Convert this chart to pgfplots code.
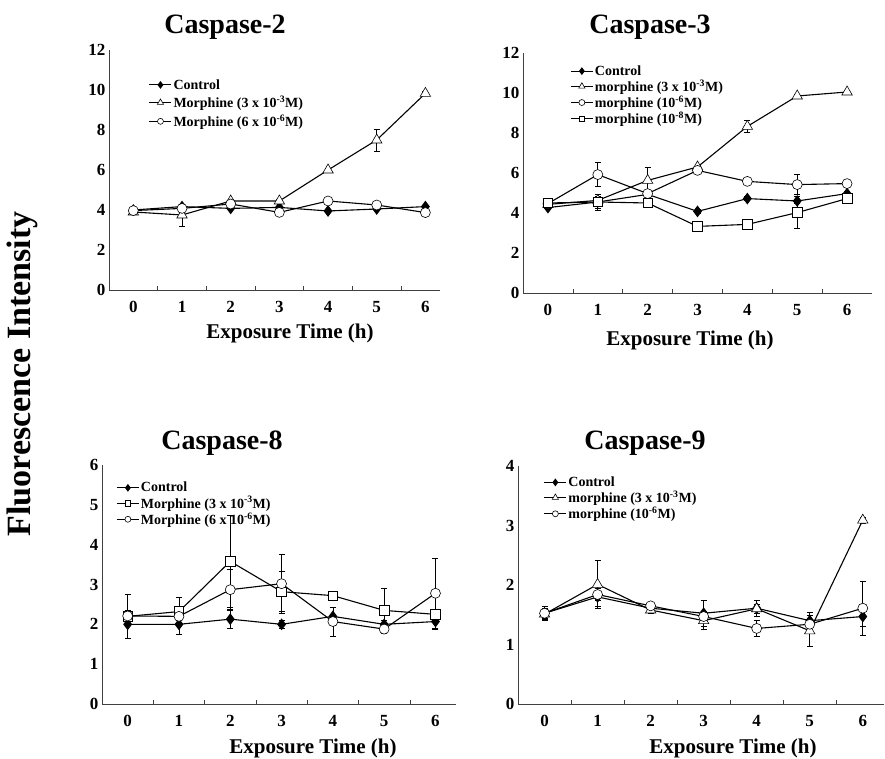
\documentclass[border=0pt]{standalone}
\usepackage{fontspec}
\setmainfont{Liberation Serif}
\usepackage{pgfplots}
\pgfplotsset{compat=1.18}

\pgfplotsset{
  caspase/.style={
    scale only axis,
    anchor=south west,
    axis lines*=left,
    axis line style={line width=0.7pt, black!75},
    xmin=-0.5, ymin=0,
    xtick={0,...,6},
    major tick length=0pt,
    extra x ticks={0.5,1.5,...,5.5},
    extra x tick labels={},
    extra x tick style={major tick length=4pt, tick align=inside, tick style={line width=0.6pt, black!75}},
    /pgf/number format/assume math mode=true,
    ticklabel style={font=\bfseries\fontsize{17}{17}\selectfont},
    xticklabel style={yshift=-8pt},
    clip=false,
    legend cell align=left,
    legend style={draw=none, fill=none, anchor=north west, inner sep=0pt,
      row sep=0pt, nodes={inner sep=1.5pt},
      font=\bfseries\fontsize{14}{14}\selectfont},
    legend image code/.code={
      \draw[mark repeat=2, mark phase=2, #1, every mark/.append style={scale=0.6}]
        plot coordinates {(0pt,0pt) (11pt,0pt) (22pt,0pt)};},
    error bars/y dir=both, error bars/y explicit,
    error bars/error bar style={line width=0.6pt, black},
    error bars/error mark options={rotate=90, mark size=3pt, line width=0.6pt, black},
  },
  ctrl/.style={black, line width=1.1pt, mark=diamond*, mark size=5pt,
    mark options={fill=black, solid}},
  tri/.style={black, line width=1.1pt, mark=triangle*, mark size=6pt,
    mark options={fill=white, solid, line width=0.6pt}},
  circ/.style={black, line width=1.1pt, mark=*, mark size=5pt,
    mark options={fill=white, solid, line width=0.6pt}},
  sq/.style={black, line width=1.1pt, mark=square*, mark size=4.8pt,
    mark options={fill=white, solid, line width=0.6pt}},
}

\begin{document}
\begin{tikzpicture}
\useasboundingbox (0pt,0pt) rectangle (885pt,759pt);

\node[rotate=90, font=\bfseries\fontsize{34}{34}\selectfont] at (22pt,385pt) {Fluorescence Intensity};

% titles and x labels
\begin{scope}[every node/.style={font=\bfseries\fontsize{28}{28}\selectfont}]
  \node at (225pt,732pt) {Caspase-2};
  \node at (650pt,732pt) {Caspase-3};
  \node at (222pt,316pt) {Caspase-8};
  \node at (645pt,316pt) {Caspase-9};
\end{scope}
\begin{scope}[every node/.style={font=\bfseries\fontsize{21}{21}\selectfont}]
  \node at (290pt,426pt) {Exposure Time (h)};
  \node at (690pt,419pt) {Exposure Time (h)};
  \node at (313pt,11pt) {Exposure Time (h)};
  \node at (733pt,11pt) {Exposure Time (h)};
\end{scope}

% Caspase-2
\begin{axis}[caspase, at={(109pt,469pt)}, width=331pt, height=240pt,
  xmax=6.3, ymax=12, ytick={0,2,...,12},
  legend style={at={(axis description cs:0.12,0.885)}, row sep=2.5pt}]
\addplot[ctrl] coordinates {(0,4.0) (1,4.17) (2,4.08) (3,4.13) (4,3.95) (5,4.05) (6,4.17)};
\addlegendentry{Control}
\addplot[tri] coordinates {(0,3.9) +- (0,0.1) (1,3.75) +- (0,0.55) (2,4.45) +- (0,0.1)
  (3,4.45) +- (0,0.1) (4,6.0) +- (0,0.1) (5,7.5) +- (0,0.55) (6,9.83) +- (0,0.1)};
\addlegendentry{Morphine (3 x 10\textsuperscript{-3}M)}
\addplot[circ] coordinates {(0,3.97) (1,4.08) (2,4.3) (3,3.88) (4,4.45) (5,4.25) (6,3.87)};
\addlegendentry{Morphine (6 x 10\textsuperscript{-6}M)}
\end{axis}

% Caspase-3
\begin{axis}[caspase, at={(523pt,466pt)}, width=349pt, height=240pt,
  xmax=6.5, ymax=12, ytick={0,2,...,12},
  legend style={at={(axis description cs:0.135,0.955)}}]
\addplot[ctrl] coordinates {(0,4.27) +- (0,0.1) (1,4.55) +- (0,0.3) (2,4.93) +- (0,0.1)
  (3,4.08) +- (0,0.1) (4,4.72) +- (0,0.1) (5,4.6) +- (0,0.1) (6,4.97) +- (0,0.1)};
\addlegendentry{Control}
\addplot[tri] coordinates {(0,4.43) +- (0,0.1) (1,4.63) +- (0,0.1) (2,5.63) +- (0,0.65)
  (3,6.3) +- (0,0.1) (4,8.33) +- (0,0.3) (5,9.85) +- (0,0.1) (6,10.05) +- (0,0.1)};
\addlegendentry{morphine (3 x 10\textsuperscript{-3}M)}
\addplot[circ] coordinates {(0,4.47) +- (0,0.1) (1,5.92) +- (0,0.6) (2,4.97) +- (0,0.1)
  (3,6.13) +- (0,0.1) (4,5.58) +- (0,0.1) (5,5.42) +- (0,0.5) (6,5.47) +- (0,0.1)};
\addlegendentry{morphine (10\textsuperscript{-6}M)}
\addplot[sq] coordinates {(0,4.5) +- (0,0.1) (1,4.55) +- (0,0.4) (2,4.5) +- (0,0.1)
  (3,3.33) +- (0,0.1) (4,3.43) +- (0,0.1) (5,4.02) +- (0,0.8) (6,4.72) +- (0,0.1)};
\addlegendentry{morphine (10\textsuperscript{-8}M)}
\end{axis}

% Caspase-8
\begin{axis}[caspase, at={(102pt,55pt)}, width=354pt, height=239pt,
  xmax=6.4, ymax=6, ytick={0,...,6},
  legend style={at={(axis description cs:0.04,0.935)}}]
\addplot[ctrl] coordinates {(0,2.0) +- (0,0.35) (1,2.0) +- (0,0.25) (2,2.13) +- (0,0.22)
  (3,2.0) +- (0,0.1) (4,2.2) +- (0,0.22) (5,2.0) +- (0,0.1) (6,2.07) +- (0,0.2)};
\addlegendentry{Control}
\addplot[sq] coordinates {(0,2.2) +- (0,0.55) (1,2.32) +- (0,0.35) (2,3.58) +- (0,1.15)
  (3,2.82) +- (0,0.5) (4,2.72) +- (0,0.1) (5,2.35) +- (0,0.55) (6,2.25) +- (0,0.1)};
\addlegendentry{Morphine (3 x 10\textsuperscript{-3}M)}
\addplot[circ] coordinates {(0,2.21) +- (0,0.1) (1,2.2) +- (0,0.1) (2,2.87) +- (0,0.5)
  (3,3.02) +- (0,0.75) (4,2.07) +- (0,0.36) (5,1.88) +- (0,0.1) (6,2.78) +- (0,0.88)};
\addlegendentry{Morphine (6 x 10\textsuperscript{-6}M)}
\end{axis}

% Caspase-9
\begin{axis}[caspase, at={(518pt,55pt)}, width=366pt, height=238pt,
  xmax=6.4, ymax=4, ytick={0,...,4},
  legend style={at={(axis description cs:0.07,0.962)}}]
\addplot[ctrl] coordinates {(0,1.525) +- (0,0.12) (1,1.8) +- (0,0.15) (2,1.61) +- (0,0.06)
  (3,1.525) +- (0,0.22) (4,1.61) +- (0,0.14) (5,1.4) +- (0,0.14) (6,1.47) +- (0,0.17)};
\addlegendentry{Control}
\addplot[tri] coordinates {(0,1.51) +- (0,0.08) (1,2.01) +- (0,0.4) (2,1.58) +- (0,0.05)
  (3,1.4) +- (0,0.15) (4,1.6) +- (0,0.08) (5,1.23) +- (0,0.26) (6,3.09) +- (0,0.05)};
\addlegendentry{morphine (3 x 10\textsuperscript{-3}M)}
\addplot[circ] coordinates {(0,1.525) +- (0,0.08) (1,1.84) +- (0,0.1) (2,1.65) +- (0,0.05)
  (3,1.47) +- (0,0.08) (4,1.27) +- (0,0.14) (5,1.34) +- (0,0.08) (6,1.61) +- (0,0.45)};
\addlegendentry{morphine (10\textsuperscript{-6}M)}
\end{axis}
\end{tikzpicture}
\end{document}
